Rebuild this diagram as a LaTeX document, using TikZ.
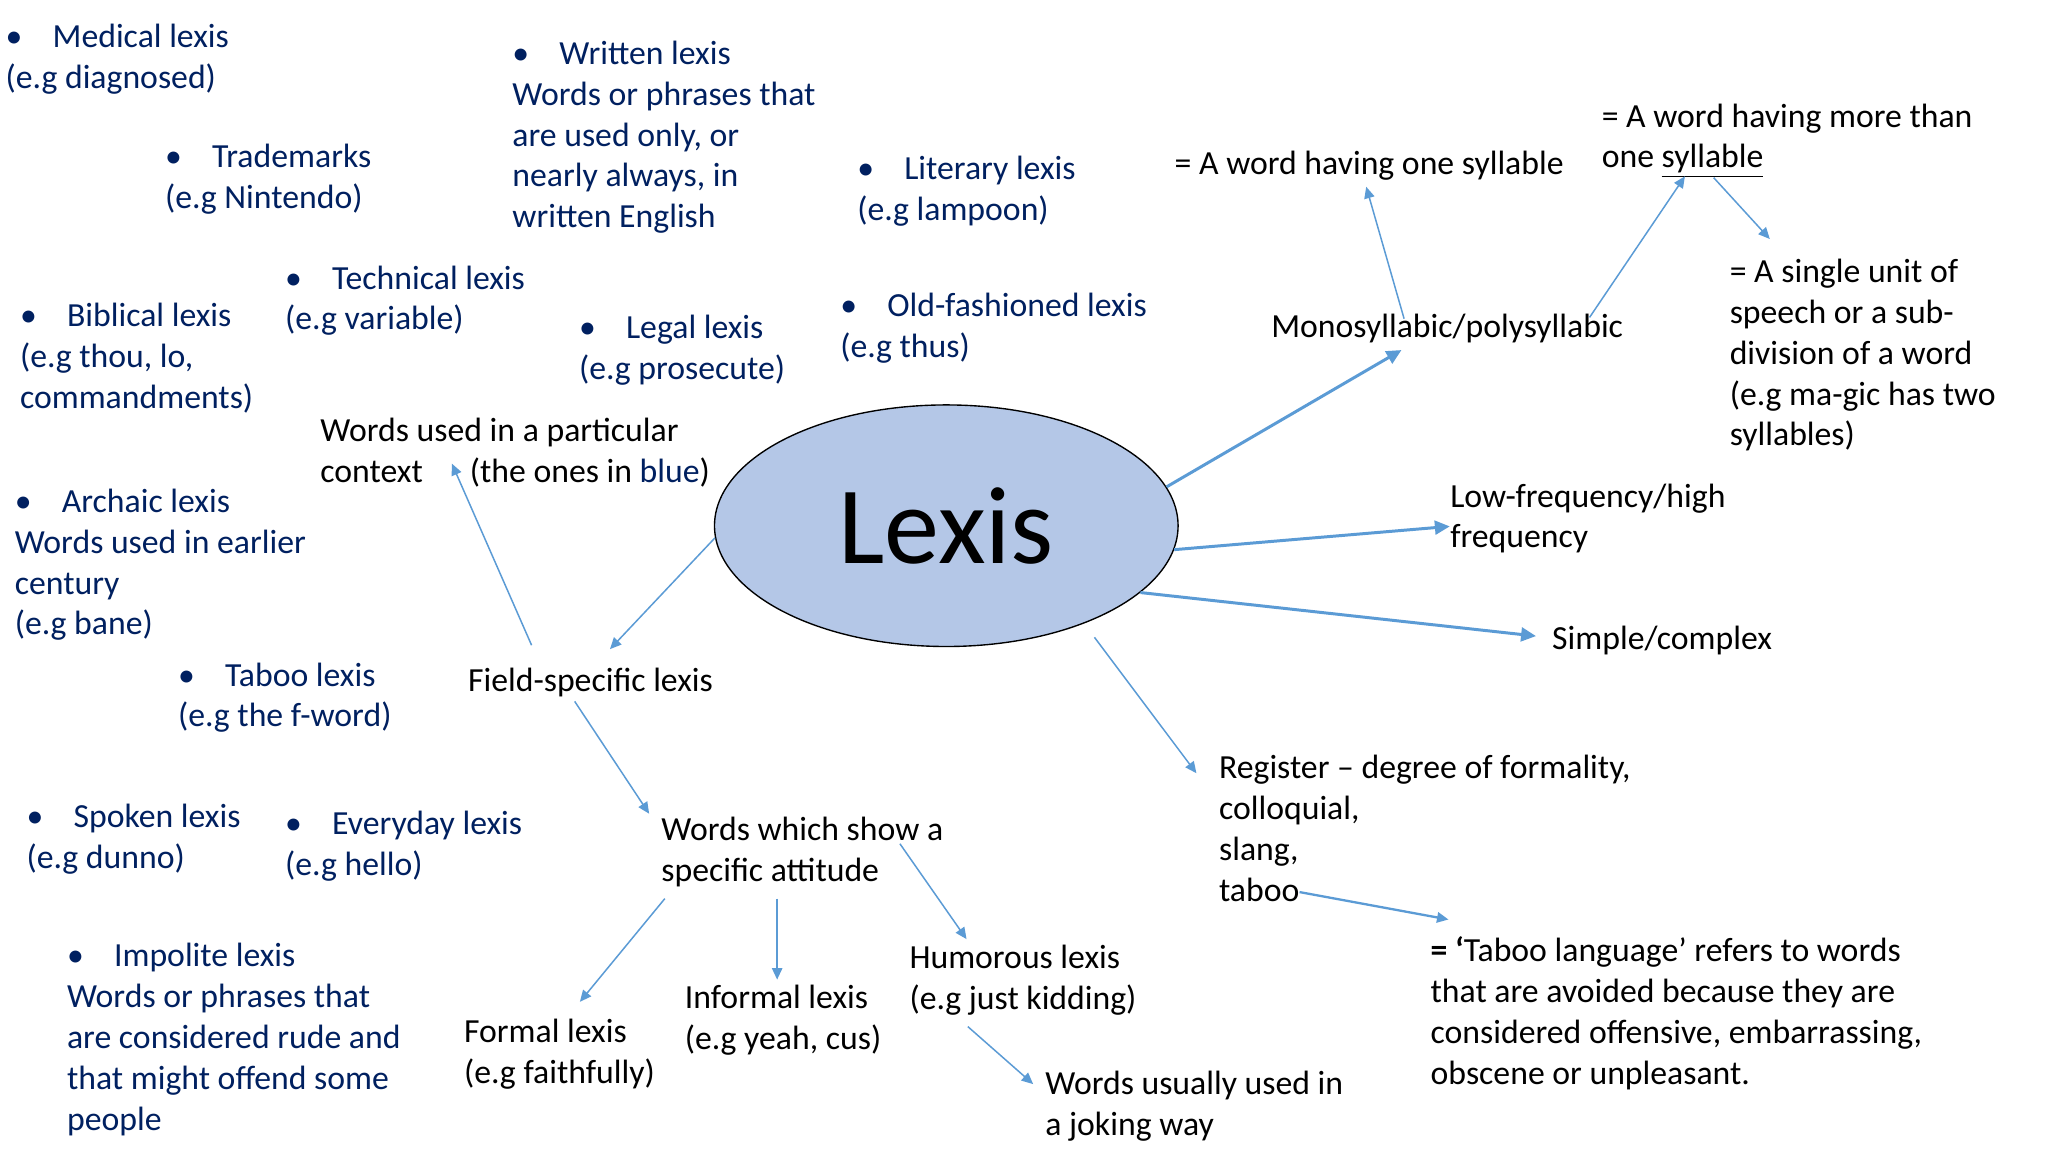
\documentclass[tikz,border=0pt]{standalone}
\usepackage{fontspec}
\setmainfont{Carlito}
\usetikzlibrary{shapes.geometric, arrows.meta}
\definecolor{navy}{HTML}{002060}
\definecolor{arrowblue}{HTML}{5B9BD5}
\definecolor{lexisfill}{HTML}{B4C7E7}
\newcommand{\bul}{\makebox[0.72cm][l]{\textbullet}}
\tikzset{
  txt/.style={anchor=north west, inner sep=0pt, align=left, font=\fontsize{14.7}{17.8}\selectfont},
  blu/.style={txt, text=navy},
  arr/.style={draw=arrowblue, line width=0.65pt, -{Triangle[length=5pt,width=4.5pt]}},
  thk/.style={arr, line width=1.3pt, -{Triangle[length=6.5pt,width=6pt]}}
}

\begin{document}
\begin{tikzpicture}[x=0.02cm, y=0.02cm]
\useasboundingbox[fill=white] (0,0) rectangle (1568,-882);
\node[ellipse, draw=black, line width=0.6pt, fill=lexisfill, minimum width=7.1cm, minimum height=3.7cm, inner sep=0pt, font=\fontsize{48}{56}\selectfont] (lexis) at (724.5,-402.5) {Lexis};
\node[blu] (med) at (4,-18) {\bul Medical lexis\\(e.g diagnosed)};
\node[blu] (trade) at (126,-110) {\bul Trademarks\\(e.g Nintendo)};
\node[blu] (written) at (392,-31) {\bul Written lexis\\Words or phrases that\\are used only, or\\nearly always, in\\written English};
\node[blu] (liter) at (656,-119) {\bul Literary lexis\\(e.g lampoon)};
\node[blu] (tech) at (218,-203) {\bul Technical lexis\\(e.g variable)};
\node[blu] (bibl) at (15,-232) {\bul Biblical lexis\\(e.g thou, lo,\\commandments)};
\node[blu] (legal) at (443,-241) {\bul Legal lexis\\(e.g prosecute)};
\node[blu] (oldf) at (643,-224) {\bul Old-fashioned lexis\\(e.g thus)};
\node[blu] (arch) at (11,-374) {\bul Archaic lexis\\Words used in earlier\\century\\(e.g bane)};
\node[blu] (taboolex) at (136,-507) {\bul Taboo lexis\\(e.g the f-word)};
\node[blu] (spoken) at (20,-615) {\bul Spoken lexis\\(e.g dunno)};
\node[blu] (everyday) at (218,-621) {\bul Everyday lexis\\(e.g hello)};
\node[blu] (impolite) at (51,-722) {\bul Impolite lexis\\Words or phrases that\\are considered rude and\\that might offend some\\people};
\node[txt] (context) at (245,-320) {Words used in a particular\\context\hspace{0.72cm}(the ones in \textcolor{navy}{blue})};
\node[txt] (field) at (358,-511) {Field-specific lexis};
\node[txt] (attitude) at (506,-625) {Words which show a\\specific attitude};
\node[txt] (formal) at (355,-780) {Formal lexis\\(e.g faithfully)};
\node[txt] (informal) at (524,-754) {Informal lexis\\(e.g yeah, cus)};
\node[txt] (humor) at (696,-723) {Humorous lexis\\(e.g just kidding)};
\node[txt] (joking) at (800,-820) {Words usually used in\\a joking way};
\node[txt] (onesyl) at (899,-115) {= A word having one syllable};
\node[txt] (moresyl) at (1226,-79) {= A word having more than\\one \underline{syllable}};
\node[txt] (unit) at (1324,-198) {= A single unit of\\speech or a sub-\\division of a word\\(e.g ma-gic has two\\syllables)};
\node[txt] (mono) at (973,-240) {Monosyllabic/polysyllabic};
\node[txt] (freq) at (1110,-370) {Low-frequency/high\\frequency};
\node[txt] (simple) at (1188,-479) {Simple/complex};
\node[txt] (reg) at (933,-578) {Register – degree of formality,\\colloquial,\\slang,\\taboo};
\node[txt] (tabdef) at (1095,-717) {\textbf{= ‘}Taboo language’ refers to words\\that are avoided because they are\\considered offensive, embarrassing,\\obscene or unpleasant.};
\draw[thk] (lexis.10) -- ([shift={(100,-28)}]mono.north west);
\draw[arr] ([shift={(102,-4)}]mono.north west) -- ([shift={(147,-28)}]onesyl.north west);
\draw[arr] ([shift={(244,-3)}]mono.north west) -- ([shift={(64,-56)}]moresyl.north west);
\draw[arr] ([shift={(86,-57)}]moresyl.north west) -- ([shift={(31,15)}]unit.north west);
\draw[thk] (lexis.354) -- ([shift={(0,-33)}]freq.north west);
\draw[thk] (lexis.341) -- ([shift={(-12,-8)}]simple.north west);
\draw[arr] ([shift={(12,-9)}]lexis.323) -- ([shift={(-17,-14)}]reg.north west);
\draw[arr, line width=1pt] ([shift={(62,-105)}]reg.north west) -- ([shift={(14,13)}]tabdef.north west);
\draw[arr] (lexis.183) -- ([shift={(109,14)}]field.north west);
\draw[arr] ([shift={(49,17)}]field.north west) -- ([shift={(101,-35)}]context.north west);
\draw[arr] ([shift={(82,-26)}]field.north west) -- ([shift={(-9,2)}]attitude.north west);
\draw[arr] ([shift={(3,-63)}]attitude.north west) -- ([shift={(89,13)}]formal.north west);
\draw[arr] ([shift={(89,-63)}]attitude.north west) -- ([shift={(71,4)}]informal.north west);
\draw[arr] ([shift={(183,-21)}]attitude.north west) -- ([shift={(44,4)}]humor.north west);
\draw[arr] ([shift={(45,-63)}]humor.north west) -- ([shift={(-9,-10)}]joking.north west);
\end{tikzpicture}
\end{document}
